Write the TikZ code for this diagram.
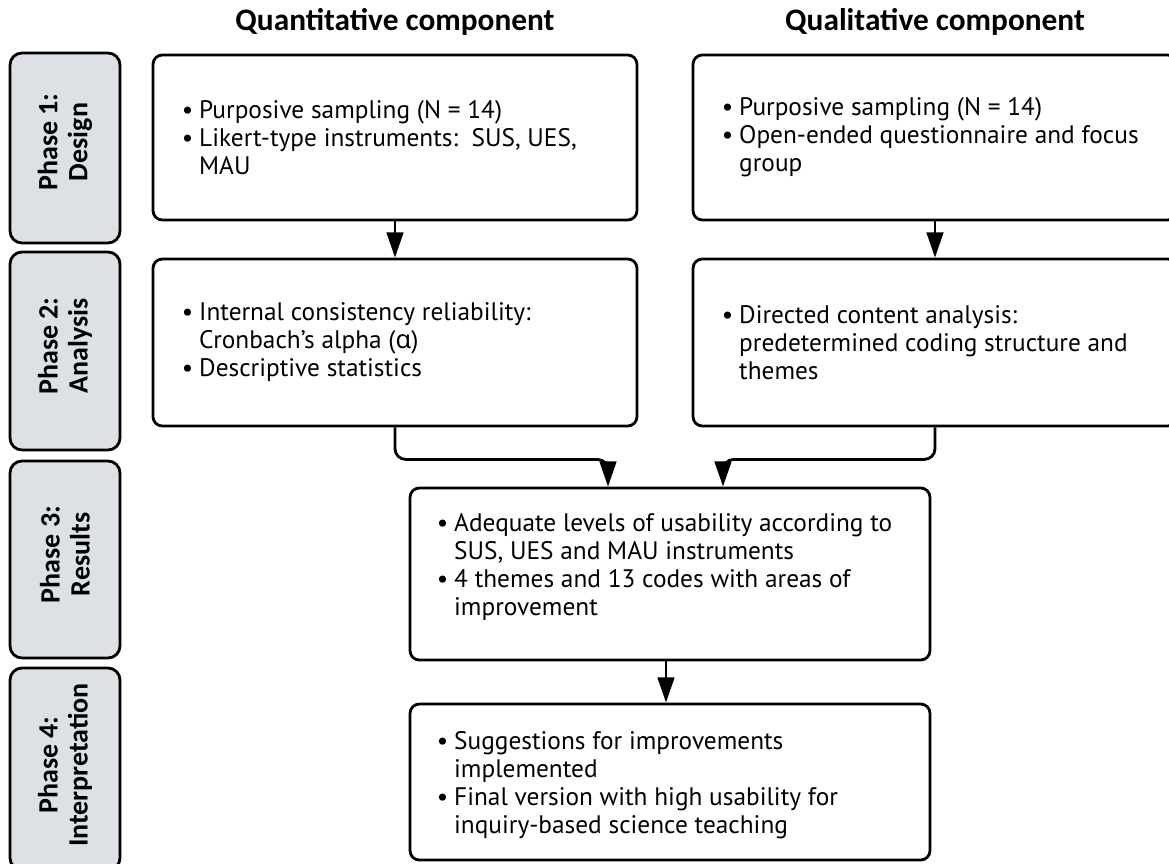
\documentclass[tikz,border=0pt]{standalone}
\usepackage{fontspec}
\setmainfont{PT Sans}
\newfontfamily\headfont{Carlito}
\newfontfamily\alphafont{Noto Sans}
\usetikzlibrary{arrows.meta,calc}
\newcommand\bul{\makebox[13pt][l]{•}}
\newcommand\ind{\hspace*{13pt}}
\definecolor{phasegray}{RGB}{221,224,229}
\begin{document}
\begin{tikzpicture}[x=0.75pt,y=-0.75pt,
  box/.style={draw=black, line width=2.1pt, rounded corners=7pt, fill=white, inner sep=0pt},
  phase/.style={draw=black, line width=2.1pt, rounded corners=9pt, fill=phasegray, inner sep=0pt, minimum width=82.5pt},
  phasetxt/.style={rotate=90, align=center, font=\headfont\bfseries\fontsize{21}{22.5}\selectfont},
  head/.style={font=\headfont\bfseries\fontsize{23.5}{26}\selectfont},
  txt/.style={align=left, anchor=west, inner sep=0pt, font=\fontsize{19}{21}\selectfont},
  arr/.style={line width=2.1pt, -{Triangle[length=19pt,width=12.5pt]}},
  conn/.style={line width=2.1pt, rounded corners=8pt, -{Triangle[length=19pt,width=12.5pt]}}
]
\useasboundingbox (0,0) rectangle (1169,863);

% headings
\node[head] (hq) at (395,22) {Quantitative component};
\node[head] (hl) at (935,22) {Qualitative component};

% phase labels
\node[phase, minimum height=142.5pt] (p1) at (65,148) {};
\node[phasetxt] (p1t) at ($(p1.center)+(0,-6)$) {Phase 1:\\Design};
\node[phase, minimum height=148.5pt] (p2) at (65,351) {};
\node[phasetxt] (p2t) at ($(p2.center)+(0,-5)$) {Phase 2:\\Analysis};
\node[phase, minimum height=147.75pt] (p3) at (65,559.5) {};
\node[phasetxt] (p3t) at ($(p3.center)+(0,-5)$) {Phase 3:\\Results};
\node[phase, minimum height=151.5pt] (p4) at (65,769) {};
\node[phasetxt] (p4t) at ($(p4.center)+(0,-4)$) {Phase 4:\\Interpretation};

% boxes
\node[box, minimum width=363pt, minimum height=123.75pt] (q1) at (395,137.5) {};
\node[box, minimum width=363pt, minimum height=123.75pt] (l1) at (935,137.5) {};
\node[box, minimum width=363pt, minimum height=125.25pt] (q2) at (395,342.5) {};
\node[box, minimum width=363pt, minimum height=125.25pt] (l2) at (935,342.5) {};
\node[box, minimum width=390pt, minimum height=129pt] (r) at (670,574) {};
\node[box, minimum width=390pt, minimum height=117pt] (f) at (670,782) {};

% texts
\node[txt] (q1t) at ($(q1.west)+(30,0)$) {\bul Purposive sampling (N = 14)\\\bul Likert-type instruments:\ \ SUS, UES,\\\ind MAU};
\node[txt] (l1t) at ($(l1.west)+(30,0)$) {\bul Purposive sampling (N = 14)\\\bul Open-ended questionnaire and focus\\\ind group};
\node[txt] (q2t) at ($(q2.west)+(30,0)$) {\bul Internal consistency reliability:\\\ind Cronbach's alpha ({\alphafont α})\\\bul Descriptive statistics};
\node[txt] (l2t) at ($(l2.west)+(30,0)$) {\bul Directed content analysis:\\\ind predetermined coding structure and\\\ind themes};
\node[txt] (rt) at ($(r.west)+(28,-7)$) {\bul Adequate levels of usability according to\\\ind SUS, UES and MAU instruments\\\bul 4 themes and 13 codes with areas of\\\ind improvement};
\node[txt] (ft) at ($(f.west)+(28,3)$) {\bul Suggestions for improvements\\\ind implemented\\\bul Final version with high usability for\\\ind inquiry-based science teaching};

% connectors
\draw[arr] (q1) -- (q2);
\draw[arr] (l1) -- (l2);
\draw[conn] (q2.south) -- ++(0,32) -| ($(r.north)+(-62,0)$);
\draw[conn] (l2.south) -- ++(0,32) -| ($(r.north)+(53,0)$);
\draw[arr] ($(r.south)+(-4,0)$) -- ($(f.north)+(-4,0)$);
\end{tikzpicture}
\end{document}
